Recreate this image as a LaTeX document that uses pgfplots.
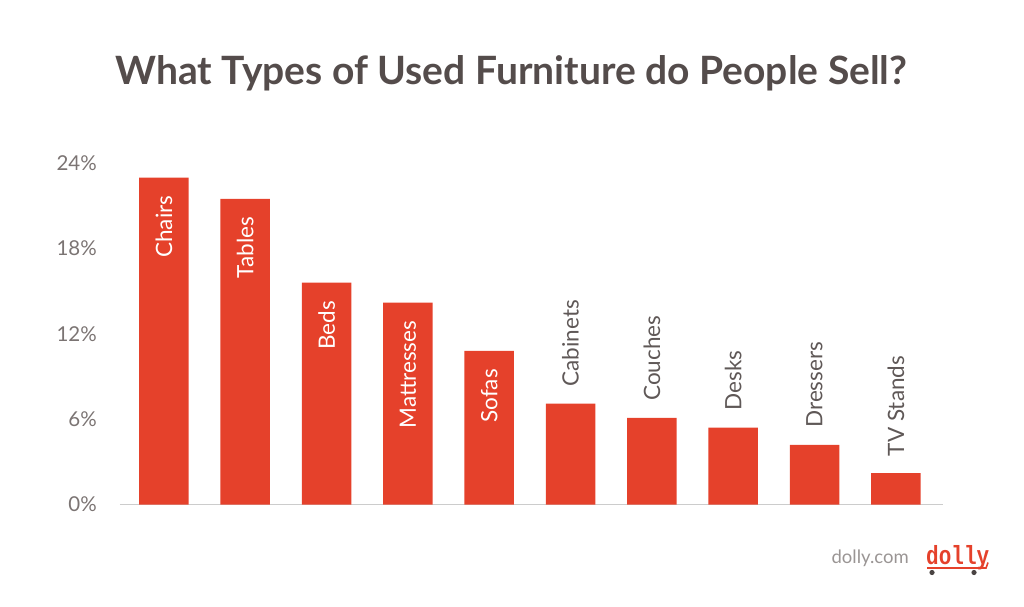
\documentclass[border=0pt]{standalone}
\usepackage{pgfplots}
\pgfplotsset{compat=1.18}
\usepackage{pgfplotstable}
\usepackage{fontspec}
\setmainfont{Lato}
\newfontfamily\logofont{Liberation Mono}

\definecolor{barred}{HTML}{E5412B}
\definecolor{titlegray}{HTML}{544C4B}
\definecolor{tickgray}{HTML}{7B7473}
\definecolor{labelgray}{HTML}{5F5857}
\definecolor{axisgray}{HTML}{CCCCCC}
\definecolor{urlgray}{HTML}{9A9594}
\definecolor{wheelgray}{HTML}{4A4443}

% share of used furniture listings, in percent
\pgfplotstableread{
x val label
0 23.0 Chairs
1 21.5 Tables
2 15.6 Beds
3 14.2 Mattresses
4 10.8 Sofas
5 7.1 Cabinets
6 6.1 Couches
7 5.4 Desks
8 4.2 Dressers
9 2.2 {TV Stands}
}\furniture

\begin{document}
\begin{tikzpicture}
% page = 1024 x 606, origin at the lower left of the plot area
\useasboundingbox (-120pt,-101.5pt) rectangle (904pt,504.5pt);

\begin{axis}[
  at={(0,0)}, anchor=south west,
  scale only axis,
  width=823pt, height=341.2pt,
  xmin=-0.54, xmax=9.58,
  ymin=0, ymax=24,
  axis lines=left,
  x axis line style={draw=axisgray, line width=1pt, -},
  y axis line style={draw=none},
  xtick=\empty,
  ytick={0,6,12,18,24},
  yticklabel={\pgfmathprintnumber{\tick}\%},
  tick style={draw=none},
  major tick length=0pt,
  /pgf/number format/assume math mode=true,
  yticklabel style={font=\fontsize{20.5}{20.5}\selectfont, text=tickgray,
    inner sep=0pt, anchor=east, xshift=-23pt},
  clip=false,
]
\addplot[ybar, bar width=49.5pt, bar shift=0pt, fill=barred, draw=none]
  table[x=x, y=val] {\furniture};

% names inside the tall bars
\addplot[draw=none, mark=none, restrict x to domain=0:4.5,
  nodes near coords, point meta=explicit symbolic,
  every node near coord/.style={font=\fontsize{22.5}{22.5}\selectfont,
    text=white, inner sep=0pt, anchor=east, yshift=-18pt, rotate=90}]
  table[x=x, y=val, meta=label] {\furniture};

% names above the short bars
\addplot[draw=none, mark=none, restrict x to domain=4.5:9.5,
  nodes near coords, point meta=explicit symbolic,
  every node near coord/.style={font=\fontsize{22.5}{22.5}\selectfont,
    text=labelgray, inner sep=0pt, anchor=west, yshift=17pt, rotate=90}]
  table[x=x, y=val, meta=label] {\furniture};
\end{axis}

\node[anchor=base, text=titlegray, font=\bfseries\fontsize{39}{39}\selectfont, inner sep=0pt]
  at (391.5pt,419.5pt) {What Types of Used Furniture do People Sell?};

\node[anchor=base east, text=urlgray, font=\fontsize{18.5}{18.5}\selectfont, inner sep=0pt]
  at (789pt,-58.5pt) {dolly.com};
\node[anchor=base west, text=barred, font=\logofont\bfseries\fontsize{21}{21}\selectfont,
  inner sep=0pt, yscale=1.25]
  at (806pt,-59.5pt) {dolly};
\draw[barred, line width=1.6pt] (807pt,-63.5pt) -- (866pt,-63.5pt) -- (868pt,-58pt);
\fill[wheelgray] (812pt,-68pt) circle (2.6pt) (854pt,-68pt) circle (2.6pt);
\end{tikzpicture}
\end{document}
